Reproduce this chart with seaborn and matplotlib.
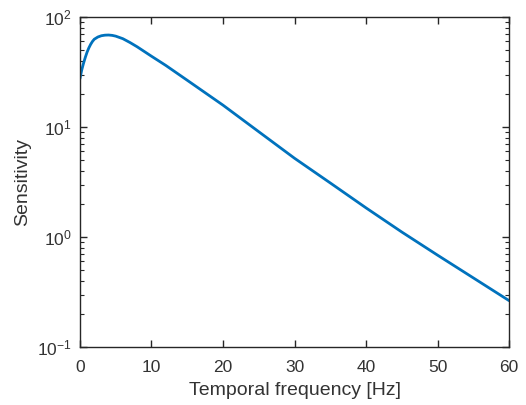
import matplotlib
matplotlib.use("Agg")
import matplotlib.pyplot as plt
import seaborn as sns
import pandas as pd
from matplotlib.ticker import LogLocator, FixedLocator

# values
freq_hz = [0, 0.25, 0.5, 0.75, 1, 1.25, 1.5, 1.75, 2, 2.5, 3, 3.5, 4, 4.5, 5, 6, 7, 8,
           10, 12, 15, 20, 25, 30, 35, 40, 45, 50, 55, 60]
sensitivity = [27.5, 33, 38, 43, 48, 52.5, 56.5, 60, 62.8, 65.8, 67.6, 68.4, 68.6, 68.1,
               67.0, 63.5, 58.6, 53.6, 44, 36.3, 26.6, 15.8,
               9.06, 5.2, 3.1, 1.84, 1.11, 0.684, 0.425, 0.264]

df = pd.DataFrame({"Temporal frequency [Hz]": freq_hz, "Sensitivity": sensitivity})

sns.set_style("ticks")
plt.rcParams["font.family"] = ["Liberation Sans", "DejaVu Sans"]
plt.rcParams["axes.edgecolor"] = "#262626"
plt.rcParams["xtick.color"] = "#262626"
plt.rcParams["ytick.color"] = "#262626"

fig = plt.figure(figsize=(5.26, 4.05), dpi=100)
ax = fig.add_axes([0.152, 0.143, 0.816, 0.815])

sns.lineplot(data=df, x="Temporal frequency [Hz]", y="Sensitivity", ax=ax,
             color="#0072BD", linewidth=2.0)

ax.set_yscale("log")
ax.set_xlim(0, 60)
ax.set_ylim(0.1, 100)
ax.set_xticks([0, 10, 20, 30, 40, 50, 60])
ax.yaxis.set_major_locator(FixedLocator([0.1, 1, 10, 100]))
ax.yaxis.set_minor_locator(LogLocator(base=10, subs=range(2, 10)))

for s in ax.spines.values():
    s.set_visible(True)
    s.set_linewidth(1.0)
    s.set_color("#262626")

ax.tick_params(which="both", direction="in", top=True, right=True, labelsize=12.5,
               labelcolor="#333333")
ax.tick_params(which="major", length=5, width=1.0)
ax.tick_params(axis="x", which="major", pad=9)
ax.tick_params(axis="y", which="major", pad=6)
ax.tick_params(which="minor", length=3, width=0.8)
ax.set_xlabel("Temporal frequency [Hz]", fontsize=14, color="#333333", labelpad=5)
ax.set_ylabel("Sensitivity", fontsize=14, color="#333333", labelpad=4)

fig.savefig("out.png", dpi=100)
